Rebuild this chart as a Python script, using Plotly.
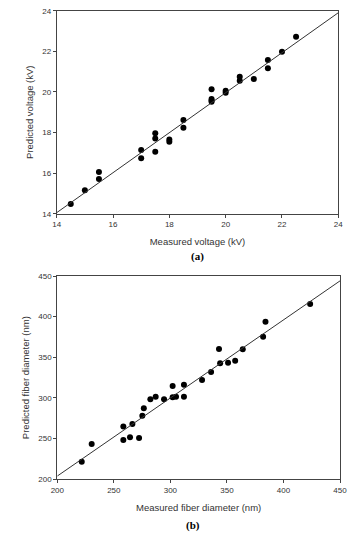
import plotly.graph_objects as go

# Panel (a): voltage
volt_measured = [14.5, 15.0, 15.5, 15.5, 17.0, 17.0, 17.5, 17.5, 17.5, 18.0, 18.0,
                 18.5, 18.5, 19.5, 19.5, 19.5, 19.5, 20.0, 20.0, 20.5, 20.5, 21.0,
                 21.5, 21.5, 22.0, 22.5]
volt_predicted = [14.48, 15.15, 16.05, 15.71, 17.14, 16.73, 17.96, 17.71, 17.05, 17.66, 17.55,
                  18.62, 18.23, 20.13, 19.65, 19.58, 19.52, 20.06, 19.96, 20.75, 20.55, 20.64,
                  21.57, 21.16, 21.98, 22.72]
volt_fit_x = [14, 24]
volt_fit_y = [14.05, 23.9]
volt_ticks = [14, 16, 18, 20, 22, 24]

# Panel (b): fiber diameter
diam_measured = [221.6, 230.4, 258.4, 258.4, 264.3, 266.4, 272.3, 275.2, 276.5, 282.3,
                 287.0, 294.4, 302.0, 305.0, 312.0, 302.0, 312.0, 328.0, 336.0, 343.0,
                 344.0, 351.0, 357.3, 364.0, 382.0, 384.1, 423.6]
diam_predicted = [221.7, 243.4, 264.8, 248.4, 251.7, 268.0, 250.8, 278.0, 287.3, 298.4,
                  301.6, 298.4, 300.8, 301.6, 301.6, 314.8, 316.4, 322.0, 332.0, 360.3,
                  342.6, 343.4, 345.9, 359.9, 375.4, 393.8, 415.6]
diam_fit_x = [200, 450]
diam_fit_y = [204, 444]
diam_ticks = [200, 250, 300, 350, 400, 450]

FONT = "Liberation Sans, Arial, sans-serif"
AX = dict(showgrid=False, zeroline=False, showline=True, linecolor="#444", linewidth=1,
          mirror=True, ticks="outside", ticklen=3, tickcolor="#444", automargin=False,
          tickfont=dict(family=FONT, size=8, color="#333"))

fig = go.Figure()
mk = dict(color="black", size=6)
fig.add_trace(go.Scatter(x=volt_measured, y=volt_predicted, mode="markers", marker=mk,
                         xaxis="x", yaxis="y", showlegend=False))
fig.add_trace(go.Scatter(x=volt_fit_x, y=volt_fit_y, mode="lines",
                         line=dict(color="#333", width=1), xaxis="x", yaxis="y", showlegend=False))
fig.add_trace(go.Scatter(x=diam_measured, y=diam_predicted, mode="markers", marker=mk,
                         xaxis="x2", yaxis="y2", showlegend=False))
fig.add_trace(go.Scatter(x=diam_fit_x, y=diam_fit_y, mode="lines",
                         line=dict(color="#333", width=1), xaxis="x2", yaxis="y2", showlegend=False))

W, H = 364, 536
fig.update_layout(
    width=W, height=H, margin=dict(l=0, r=0, t=0, b=0, autoexpand=False),
    paper_bgcolor="white", plot_bgcolor="white",
    xaxis=dict(AX, domain=[56.7 / W, 338.3 / W], range=[14, 24], tickvals=volt_ticks,
               anchor="y", title=dict(text="Measured voltage (kV)", standoff=10,
                                      font=dict(family=FONT, size=9.5, color="#333"))),
    yaxis=dict(AX, domain=[1 - 213.7 / H, 1 - 10.7 / H], range=[14, 24], tickvals=volt_ticks,
               anchor="x", title=dict(text="Predicted voltage (kV)", standoff=6,
                                      font=dict(family=FONT, size=9.5, color="#333"))),
    xaxis2=dict(AX, domain=[57.3 / W, 340 / W], range=[200, 450], tickvals=diam_ticks,
                anchor="y2", title=dict(text="Measured fiber diameter (nm)", standoff=10,
                                        font=dict(family=FONT, size=9.5, color="#333"))),
    yaxis2=dict(AX, domain=[1 - 479.3 / H, 1 - 276 / H], range=[200, 450], tickvals=diam_ticks,
                anchor="x2", title=dict(text="Predicted fiber diameter (nm)", standoff=7,
                                        font=dict(family=FONT, size=9.5, color="#333"))),
    annotations=[
        dict(text="<b>(a)</b>", x=197 / W, y=1 - 256 / H, xref="paper", yref="paper",
             xanchor="center", yanchor="middle", showarrow=False,
             font=dict(family="Liberation Serif, Times New Roman, serif", size=11, color="black")),
        dict(text="<b>(b)</b>", x=193 / W, y=1 - 525 / H, xref="paper", yref="paper",
             xanchor="center", yanchor="middle", showarrow=False,
             font=dict(family="Liberation Serif, Times New Roman, serif", size=11, color="black")),
    ],
)

fig.write_html("out.html", config={"displayModeBar": False},
               post_script="document.body.style.margin='0';")
